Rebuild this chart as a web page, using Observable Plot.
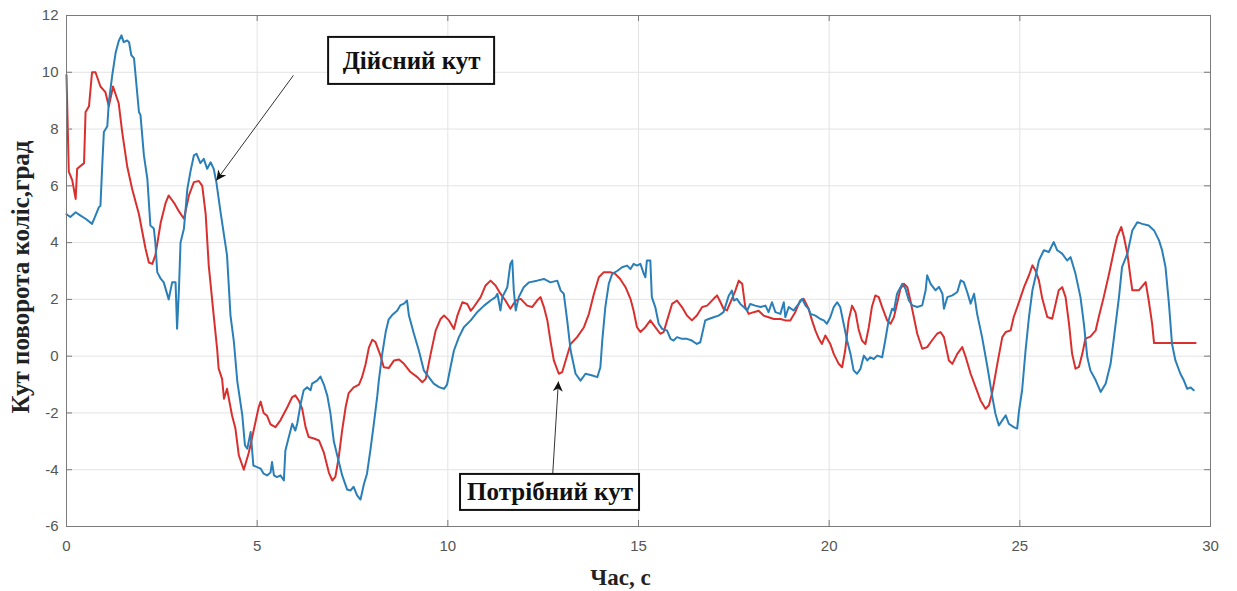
<!DOCTYPE html>
<html>
<head>
<meta charset="utf-8">
<script src="https://cdn.jsdelivr.net/npm/d3@7"></script>
<script src="https://cdn.jsdelivr.net/npm/@observablehq/plot@0.6"></script>
<style>
  html, body { margin: 0; padding: 0; background: #fff; }
  #chart { width: 1237px; height: 591px; }
</style>
</head>
<body>
<div id="chart"></div>
<script>
// ---- Data ----
const xTicks = [0, 5, 10, 15, 20, 25, 30];
const yTicks = [-6, -4, -2, 0, 2, 4, 6, 8, 10, 12];

// Потрібний кут (red)
const tRed = [0, 0.06, 0.15, 0.24, 0.28, 0.46, 0.50, 0.59, 0.67, 0.76, 0.89, 1.02, 1.11, 1.22, 1.37, 1.46, 1.59, 1.72, 1.9, 2.07, 2.16, 2.25, 2.33, 2.47, 2.6, 2.68, 2.82, 2.95, 3.08, 3.21, 3.34, 3.47, 3.56, 3.65, 3.73, 3.86, 3.95, 3.99, 4.08, 4.13, 4.21, 4.34, 4.43, 4.52, 4.65, 4.78, 4.91, 5.04, 5.09, 5.17, 5.26, 5.35, 5.48, 5.61, 5.79, 5.92, 6.0, 6.09, 6.18, 6.27, 6.35, 6.49, 6.62, 6.75, 6.88, 6.97, 7.05, 7.14, 7.23, 7.32, 7.4, 7.53, 7.67, 7.75, 7.84, 7.93, 8.02, 8.1, 8.24, 8.32, 8.45, 8.59, 8.72, 8.85, 9.02, 9.2, 9.33, 9.42, 9.55, 9.68, 9.81, 9.9, 10.03, 10.16, 10.25, 10.38, 10.51, 10.6, 10.68, 10.86, 10.99, 11.12, 11.25, 11.38, 11.51, 11.64, 11.78, 11.91, 12.08, 12.21, 12.34, 12.43, 12.52, 12.61, 12.69, 12.78, 12.91, 13.0, 13.09, 13.22, 13.39, 13.57, 13.7, 13.83, 13.96, 14.09, 14.26, 14.39, 14.52, 14.66, 14.79, 14.87, 14.96, 15.05, 15.18, 15.31, 15.44, 15.57, 15.66, 15.75, 15.88, 16.01, 16.14, 16.27, 16.4, 16.53, 16.67, 16.8, 16.97, 17.06, 17.15, 17.23, 17.32, 17.45, 17.54, 17.63, 17.72, 17.8, 17.89, 18.02, 18.15, 18.28, 18.41, 18.55, 18.72, 18.85, 18.98, 19.11, 19.24, 19.33, 19.46, 19.55, 19.64, 19.73, 19.81, 19.9, 20.03, 20.12, 20.25, 20.34, 20.42, 20.51, 20.6, 20.69, 20.77, 20.86, 20.95, 21.04, 21.12, 21.21, 21.3, 21.39, 21.52, 21.61, 21.7, 21.78, 21.87, 21.96, 22.05, 22.13, 22.22, 22.31, 22.44, 22.57, 22.7, 22.83, 22.92, 23.01, 23.14, 23.23, 23.36, 23.49, 23.58, 23.71, 23.84, 23.97, 24.1, 24.19, 24.28, 24.41, 24.54, 24.63, 24.76, 24.84, 24.98, 25.11, 25.24, 25.33, 25.41, 25.5, 25.59, 25.72, 25.85, 25.94, 26.02, 26.11, 26.2, 26.29, 26.37, 26.46, 26.55, 26.64, 26.72, 26.85, 26.99, 27.07, 27.2, 27.34, 27.47, 27.55, 27.66, 27.73, 27.82, 27.9, 27.95, 28.12, 28.3, 28.38, 28.47, 28.52, 29.61];
const vRed = [9.9, 6.5, 6.2, 5.54, 6.6, 6.8, 8.6, 8.8, 10.0, 10.0, 9.5, 9.3, 8.8, 9.5, 8.9, 7.9, 6.7, 5.9, 5.0, 3.8, 3.3, 3.25, 3.55, 4.7, 5.4, 5.66, 5.4, 5.1, 4.84, 5.66, 6.13, 6.17, 6.0, 5.0, 3.2, 1.44, 0.26, -0.44, -0.8, -1.5, -1.15, -2.08, -2.55, -3.5, -4.0, -3.4, -2.6, -1.8, -1.6, -2.0, -2.1, -2.4, -2.5, -2.26, -1.8, -1.44, -1.38, -1.56, -1.85, -2.5, -2.85, -2.9, -2.97, -3.4, -4.1, -4.38, -4.25, -3.56, -2.6, -1.8, -1.3, -1.1, -1.0, -0.74, -0.3, 0.3, 0.58, 0.5, 0.0, -0.39, -0.42, -0.15, -0.12, -0.27, -0.56, -0.74, -0.92, -0.8, 0.08, 0.9, 1.31, 1.43, 1.26, 0.96, 1.43, 1.9, 1.84, 1.6, 1.73, 2.08, 2.49, 2.66, 2.49, 2.2, 1.96, 1.67, 1.96, 2.02, 1.78, 1.73, 1.96, 2.08, 1.73, 1.26, 0.55, -0.15, -0.62, -0.56, -0.15, 0.43, 0.67, 1.02, 1.49, 2.19, 2.78, 2.96, 2.96, 2.9, 2.72, 2.43, 2.02, 1.61, 1.02, 0.85, 1.02, 1.26, 1.02, 0.79, 0.85, 1.26, 1.84, 1.96, 1.73, 1.43, 1.26, 1.43, 1.73, 1.78, 2.02, 2.14, 1.9, 1.67, 1.61, 2.02, 2.31, 2.66, 2.55, 1.73, 1.49, 1.55, 1.6, 1.43, 1.37, 1.31, 1.31, 1.26, 1.26, 1.55, 1.96, 2.02, 1.67, 1.26, 0.9, 0.61, 0.43, 0.73, 0.43, 0.08, -0.27, -0.39, 0.2, 1.26, 1.78, 1.55, 0.96, 0.55, 0.43, 1.02, 1.73, 2.14, 2.08, 1.73, 1.26, 1.14, 1.38, 1.85, 2.38, 2.55, 2.43, 1.96, 1.38, 0.79, 0.26, 0.32, 0.56, 0.79, 0.85, 0.67, -0.15, -0.27, 0.08, 0.32, -0.03, -0.62, -1.09, -1.56, -1.85, -1.73, -1.26, -0.27, 0.67, 0.85, 0.91, 1.38, 1.91, 2.43, 2.85, 3.2, 3.02, 2.67, 2.02, 1.38, 1.32, 1.85, 2.32, 2.43, 2.08, 1.14, 0.09, -0.44, -0.38, 0.09, 0.62, 0.69, 0.91, 1.38, 2.08, 2.9, 3.73, 4.2, 4.55, 4.2, 3.61, 2.79, 2.32, 2.32, 2.61, 1.96, 1.14, 0.46, 0.46];

// Дійсний кут (blue)
const tBlue = [0, 0.1, 0.24, 0.37, 0.5, 0.67, 0.76, 0.85, 0.89, 0.94, 0.98, 1.07, 1.11, 1.2, 1.29, 1.37, 1.44, 1.5, 1.59, 1.64, 1.7, 1.77, 1.9, 1.94, 2.03, 2.12, 2.2, 2.29, 2.33, 2.38, 2.47, 2.55, 2.68, 2.77, 2.86, 2.9, 2.95, 2.99, 3.08, 3.17, 3.25, 3.34, 3.41, 3.51, 3.6, 3.69, 3.78, 3.86, 3.93, 4.04, 4.21, 4.3, 4.39, 4.48, 4.61, 4.68, 4.74, 4.83, 4.9, 5.09, 5.17, 5.26, 5.35, 5.39, 5.44, 5.52, 5.61, 5.7, 5.74, 5.83, 5.92, 6.0, 6.05, 6.14, 6.22, 6.31, 6.4, 6.44, 6.57, 6.66, 6.75, 6.84, 6.92, 7.01, 7.1, 7.23, 7.36, 7.45, 7.53, 7.62, 7.71, 7.8, 7.88, 7.97, 8.06, 8.15, 8.19, 8.28, 8.37, 8.45, 8.54, 8.67, 8.76, 8.85, 8.93, 8.98, 9.11, 9.24, 9.37, 9.5, 9.63, 9.77, 9.9, 9.98, 10.07, 10.16, 10.29, 10.42, 10.6, 10.77, 10.95, 11.12, 11.25, 11.3, 11.38, 11.43, 11.56, 11.64, 11.69, 11.73, 11.78, 11.86, 11.99, 12.13, 12.34, 12.52, 12.69, 12.87, 12.96, 13.04, 13.13, 13.22, 13.35, 13.48, 13.61, 13.79, 13.92, 14.0, 14.05, 14.13, 14.22, 14.31, 14.44, 14.57, 14.7, 14.79, 14.87, 14.96, 15.05, 15.14, 15.18, 15.22, 15.31, 15.35, 15.44, 15.53, 15.62, 15.75, 15.84, 15.92, 16.01, 16.14, 16.27, 16.4, 16.53, 16.62, 16.75, 16.84, 16.97, 17.1, 17.23, 17.37, 17.45, 17.5, 17.58, 17.67, 17.76, 17.85, 17.93, 18.06, 18.2, 18.33, 18.41, 18.5, 18.59, 18.72, 18.81, 18.85, 18.94, 19.07, 19.2, 19.29, 19.38, 19.46, 19.51, 19.64, 19.77, 19.86, 19.94, 20.03, 20.12, 20.21, 20.29, 20.38, 20.47, 20.56, 20.64, 20.73, 20.82, 20.91, 21.0, 21.08, 21.17, 21.26, 21.39, 21.47, 21.56, 21.65, 21.7, 21.78, 21.92, 22.0, 22.09, 22.18, 22.31, 22.44, 22.53, 22.57, 22.66, 22.79, 22.88, 22.97, 23.01, 23.1, 23.23, 23.36, 23.45, 23.53, 23.62, 23.71, 23.8, 23.88, 24.01, 24.15, 24.28, 24.36, 24.45, 24.54, 24.63, 24.71, 24.84, 24.93, 24.98, 25.06, 25.15, 25.24, 25.33, 25.41, 25.5, 25.63, 25.76, 25.89, 25.98, 26.11, 26.24, 26.33, 26.46, 26.59, 26.68, 26.77, 26.85, 26.99, 27.12, 27.25, 27.38, 27.47, 27.6, 27.68, 27.82, 27.95, 28.08, 28.21, 28.38, 28.52, 28.65, 28.73, 28.82, 28.91, 28.99, 29.08, 29.21, 29.3, 29.39, 29.48, 29.56];
const vBlue = [5.0, 4.9, 5.07, 4.95, 4.84, 4.66, 4.95, 5.25, 5.3, 6.8, 7.9, 8.1, 8.95, 9.9, 10.7, 11.1, 11.3, 11.06, 11.12, 11.06, 10.6, 10.5, 8.6, 8.5, 7.07, 6.25, 4.6, 4.5, 4.0, 2.96, 2.73, 2.6, 2.0, 2.6, 2.6, 0.97, 2.4, 4.0, 4.5, 5.9, 6.5, 7.07, 7.13, 6.8, 6.95, 6.6, 6.83, 6.6, 6.13, 5.07, 3.55, 1.44, 0.5, -0.9, -2.08, -3.14, -3.26, -2.67, -3.85, -3.96, -4.14, -4.2, -4.1, -3.73, -4.2, -4.26, -4.2, -4.38, -3.32, -2.85, -2.38, -2.62, -2.38, -1.68, -1.2, -1.1, -1.2, -0.97, -0.86, -0.72, -1.0, -1.4, -2.0, -3.0, -3.5, -4.2, -4.7, -4.73, -4.6, -4.9, -5.05, -4.5, -4.14, -3.3, -2.38, -1.4, -0.86, 0.08, 0.85, 1.3, 1.45, 1.6, 1.8, 1.85, 1.96, 1.43, 0.79, 0.2, -0.5, -0.74, -0.97, -1.09, -1.15, -1.0, -0.39, 0.2, 0.67, 1.02, 1.26, 1.55, 1.78, 1.96, 2.08, 2.2, 1.61, 2.08, 2.43, 3.25, 3.37, 2.31, 1.61, 2.08, 2.43, 2.6, 2.66, 2.72, 2.6, 2.66, 2.31, 2.2, 1.26, 0.2, -0.62, -0.86, -0.62, -0.68, -0.74, -0.39, 0.55, 1.73, 2.55, 2.9, 3.0, 3.13, 3.19, 3.07, 3.25, 3.19, 3.25, 2.9, 2.78, 3.37, 3.37, 2.08, 1.73, 1.14, 0.96, 0.9, 0.61, 0.55, 0.67, 0.61, 0.61, 0.55, 0.43, 0.49, 1.26, 1.31, 1.37, 1.43, 1.55, 2.14, 2.31, 1.96, 2.02, 1.84, 1.73, 1.61, 1.84, 1.78, 1.73, 1.78, 1.55, 1.9, 1.55, 1.49, 1.9, 1.37, 1.73, 1.61, 1.84, 2.02, 1.78, 1.67, 1.49, 1.43, 1.31, 1.26, 1.14, 1.37, 1.73, 1.9, 1.73, 1.14, 0.55, 0.08, -0.5, -0.62, -0.45, 0.02, -0.15, -0.04, -0.1, 0.02, -0.04, 0.55, 1.26, 1.67, 1.61, 2.2, 2.55, 2.38, 1.96, 1.79, 1.73, 1.79, 2.32, 2.85, 2.55, 2.32, 2.44, 2.2, 1.67, 2.08, 2.14, 2.26, 2.67, 2.61, 2.26, 1.85, 2.2, 1.49, 0.67, -0.38, -1.44, -2.03, -2.44, -2.26, -2.08, -2.38, -2.5, -2.55, -1.91, -1.2, 0.2, 1.38, 2.32, 2.79, 3.37, 3.73, 3.67, 4.02, 3.73, 3.61, 3.37, 3.49, 2.9, 2.08, 1.14, -0.04, -0.5, -0.85, -1.26, -0.97, -0.27, 0.67, 2.08, 3.14, 3.61, 4.43, 4.72, 4.66, 4.6, 4.43, 4.08, 3.73, 3.14, 1.85, 0.44, -0.15, -0.62, -0.85, -1.15, -1.1, -1.2];

// Annotations (labels, anchor points in data units) and arrows
const noteLabels = ["Дійсний кут", "Потрібний кут"];
const noteX = [9.05, 12.68];
const noteY = [10.4, -4.8];
const arrowX1 = [5.95, 12.75];
const arrowY1 = [9.89, -4.16];
const arrowX2 = [3.93, 12.9];
const arrowY2 = [6.19, -0.89];

const xLabel = "Час, с";
const yLabel = "Кут поворота колiс,град";

// ---- Styles ----
const RED = "#d8302e";
const BLUE = "#2a7fb8";
const GRID = "#e3e3e3";
const AXIS = "#7a7a7a";
const TICKTXT = "#555";
const SERIF = "'Liberation Serif', 'DejaVu Serif', serif";
const SANS = "'Liberation Sans', Arial, sans-serif";

const W = 1237, H = 591;
const mL = 66, mR = 27, mT = 15, mB = 65;
const fw = W - mL - mR, fh = H - mT - mB;
const TL = 6; // inward tick length
const fmt = d => String(d); // hyphen-minus, as in the reference

const chart = Plot.plot({
  width: W,
  height: H,
  marginLeft: mL,
  marginRight: mR,
  marginTop: mT,
  marginBottom: mB,
  style: { background: "#fff" },
  x: { domain: [0, 30], axis: null },
  y: { domain: [-6, 12], axis: null },
  marks: [
    Plot.gridX(xTicks, { stroke: GRID, strokeOpacity: 1 }),
    Plot.gridY(yTicks, { stroke: GRID, strokeOpacity: 1 }),
    Plot.line(tRed, { x: tRed, y: vRed, stroke: RED, strokeWidth: 2, curve: "linear" }),
    Plot.line(tBlue, { x: tBlue, y: vBlue, stroke: BLUE, strokeWidth: 2, curve: "linear" }),
    Plot.frame({ stroke: AXIS, strokeWidth: 1 }),
    // inward ticks on all four sides
    Plot.ruleX(xTicks, { x: d => d, insetTop: fh - TL, stroke: AXIS }),
    Plot.ruleX(xTicks, { x: d => d, insetBottom: fh - TL, stroke: AXIS }),
    Plot.ruleY(yTicks, { y: d => d, insetRight: fw - TL, stroke: AXIS }),
    Plot.ruleY(yTicks, { y: d => d, insetLeft: fw - TL, stroke: AXIS }),
    Plot.axisX(xTicks, { tickSize: 0, tickPadding: 14, fontSize: 15, fill: TICKTXT, label: null, fontFamily: SANS, tickFormat: fmt }),
    Plot.axisY(yTicks, { tickSize: 0, tickPadding: 8, fontSize: 15, fill: TICKTXT, label: null, fontFamily: SANS, tickFormat: fmt }),
    // axis titles
    Plot.text([xLabel], { frameAnchor: "bottom", textAnchor: "middle", dx: -18, dy: 51, lineAnchor: "middle", fontSize: 23, fontWeight: "bold", fontFamily: SERIF, fill: "#222" }),
    Plot.text([yLabel], { frameAnchor: "left", textAnchor: "middle", rotate: -90, dx: -46, dy: 6, lineAnchor: "middle", fontSize: 25, fontWeight: "bold", fontFamily: SERIF, fill: "#222" }),
    // arrows
    Plot.link(arrowX1, { x1: arrowX1, y1: arrowY1, x2: arrowX2, y2: arrowY2, stroke: "#333", strokeWidth: 1, className: "note-arrow" }),
    // annotation labels
    Plot.text(noteLabels, { x: noteX, y: noteY, text: d => d, lineAnchor: "middle", fontSize: 25, fontWeight: "bold", fontFamily: SERIF, fill: "#111", className: "note-label" })
  ]
});

document.getElementById("chart").appendChild(chart);

// ---- post-processing: boxes around labels and filled arrowheads ----
const svg = d3.select(chart);
const ns = "http://www.w3.org/2000/svg";
const defs = svg.insert("defs", ":first-child");
defs.append("marker")
  .attr("id", "ahead")
  .attr("viewBox", "0 0 10 10")
  .attr("refX", 10).attr("refY", 5)
  .attr("markerWidth", 14).attr("markerHeight", 10)
  .attr("markerUnits", "userSpaceOnUse")
  .attr("orient", "auto")
  .append("path").attr("d", "M0,0L10,5L0,10L3,5Z").attr("fill", "#111");
svg.selectAll(".note-arrow path, g.note-arrow path").attr("marker-end", "url(#ahead)");

const sx = chart.scale("x"), sy = chart.scale("y");
const boxSizes = [[166, 47], [179, 36]];
const labelGroup = svg.select(".note-label");
noteLabels.forEach((lab, i) => {
  const cx = sx.apply(noteX[i]), cy = sy.apply(noteY[i]);
  const [bw, bh] = boxSizes[i];
  const r = document.createElementNS(ns, "rect");
  r.setAttribute("x", cx - bw / 2);
  r.setAttribute("y", cy - bh / 2);
  r.setAttribute("width", bw);
  r.setAttribute("height", bh);
  r.setAttribute("fill", "#fff");
  r.setAttribute("stroke", "#111");
  r.setAttribute("stroke-width", 2);
  svg.node().insertBefore(r, labelGroup.node());
});
</script>
</body>
</html>
